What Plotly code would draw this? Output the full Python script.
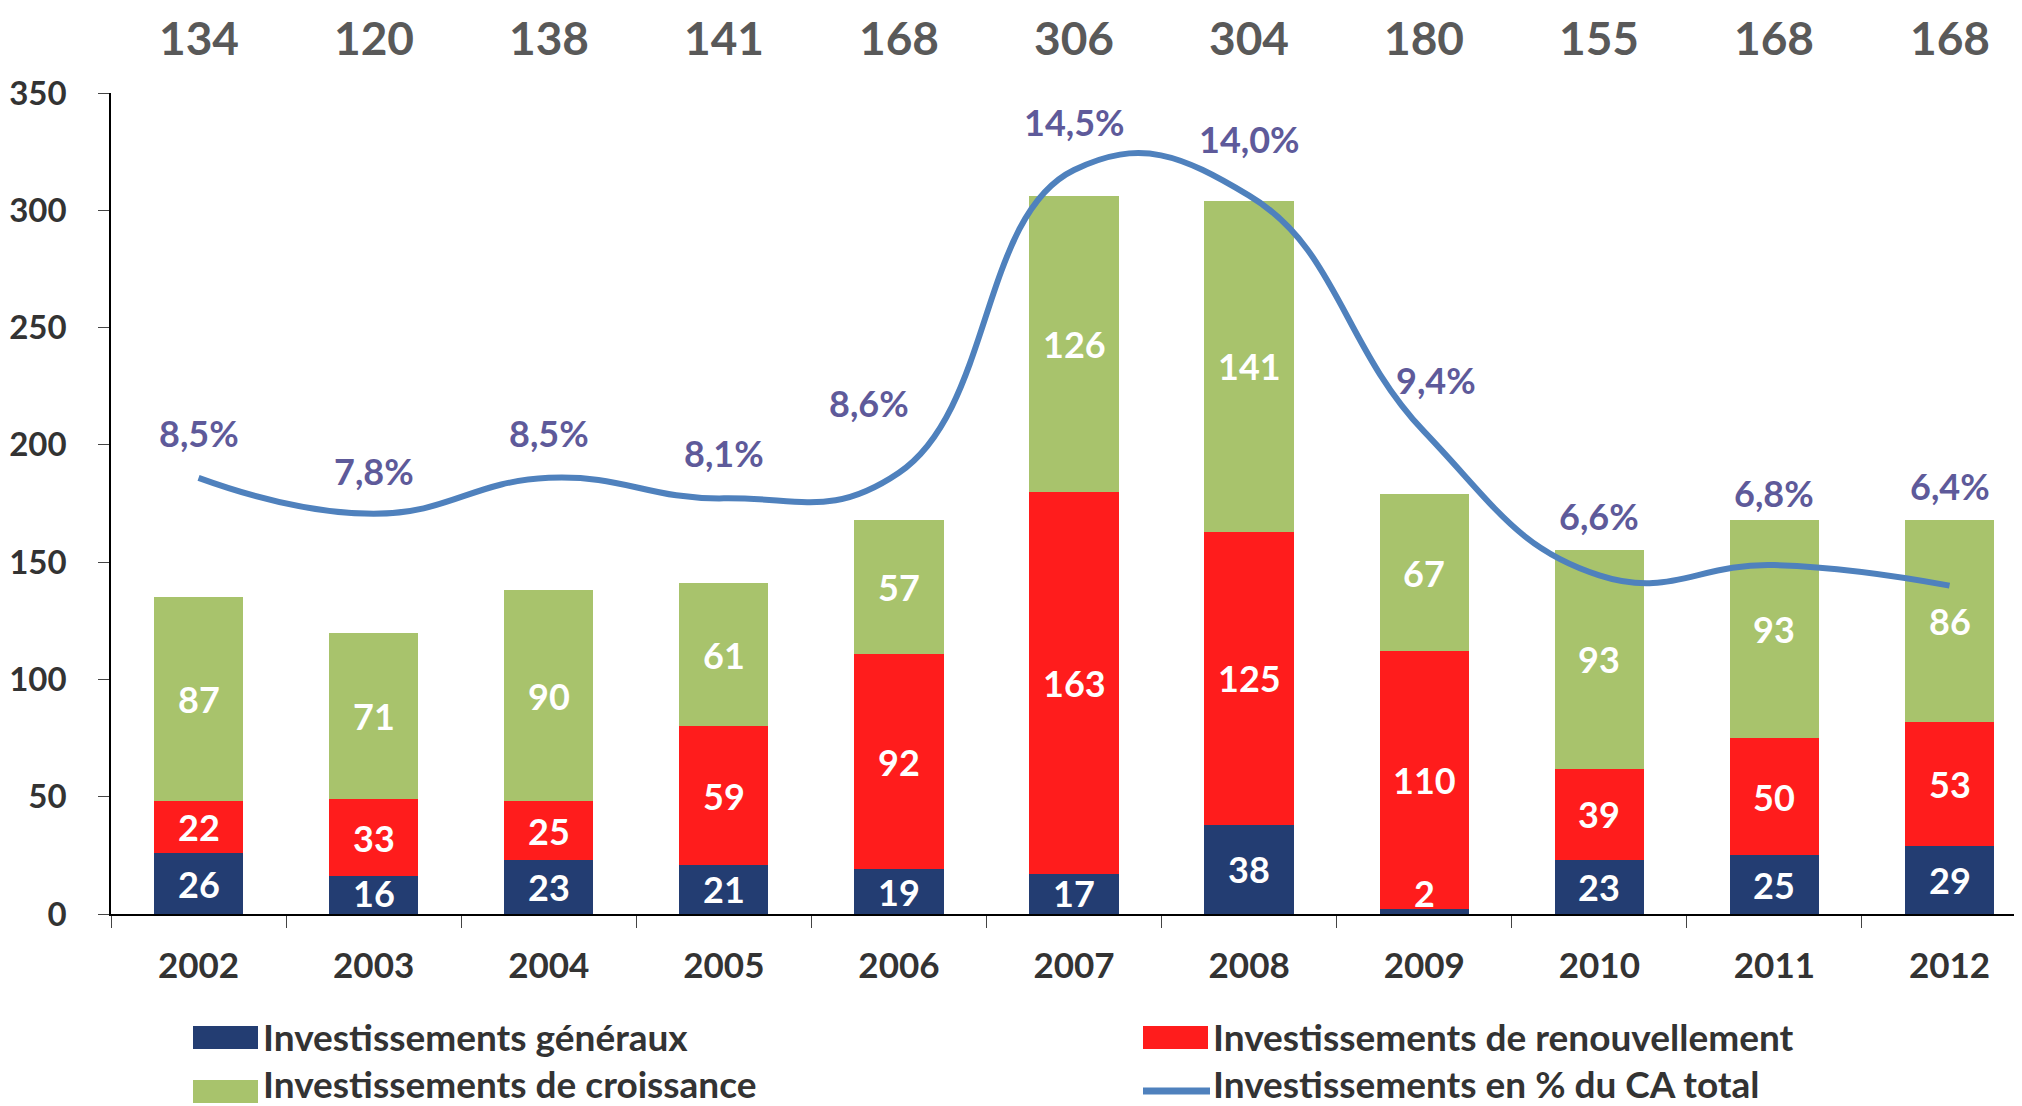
import plotly.graph_objects as go

years = ["2002", "2003", "2004", "2005", "2006", "2007", "2008", "2009", "2010", "2011", "2012"]
generaux = [26, 16, 23, 21, 19, 17, 38, 2, 23, 25, 29]
renouvellement = [22, 33, 25, 59, 92, 163, 125, 110, 39, 50, 53]
croissance = [87, 71, 90, 61, 57, 126, 141, 67, 93, 93, 86]
totals = [134, 120, 138, 141, 168, 306, 304, 180, 155, 168, 168]
pct_ca = [8.5, 7.8, 8.5, 8.1, 8.6, 14.5, 14.0, 9.4, 6.6, 6.8, 6.4]
pct_text = ["8,5%", "7,8%", "8,5%", "8,1%", "8,6%", "14,5%", "14,0%", "9,4%", "6,6%", "6,8%", "6,4%"]

series_names = ["Investissements généraux", "Investissements de renouvellement",
                "Investissements de croissance", "Investissements en % du CA total"]

# styles
FONT = "Lato, 'Open Sans', 'DejaVu Sans', sans-serif"
C_NAVY = "#233D72"
C_RED = "#FF1C1C"
C_GREEN = "#A8C36C"
C_LINE = "#4F81BD"
C_PCT = "#5E5A9A"
C_TOT = "#595959"
C_AX = "#333333"
pct_dy = [45, 43, 45, 45, 70, 48, 57, 52, 59, 72, 100]
pct_dx = [0, 0, 0, 0, -30, 0, 0, 12, 0, 0, 0]

OFF = 8  # page body margin
W, H = 2022 - OFF, 1106 - OFF
ML, MR, MT, MB = 111 - OFF, 0, 93 - OFF, 192
PW, PH = W - ML - MR, H - MT - MB


def px(xs):
    return (xs - OFF - ML) / PW


def py(ys):
    return (H - MB - (ys - OFF)) / PH


fig = go.Figure()
for name, vals, col in [(series_names[0], generaux, C_NAVY),
                        (series_names[1], renouvellement, C_RED),
                        (series_names[2], croissance, C_GREEN)]:
    fig.add_trace(go.Bar(x=years, y=vals, name=name, width=0.51,
                         marker=dict(color=col, line=dict(width=0)),
                         showlegend=False))

fig.add_trace(go.Scatter(x=years, y=pct_ca, name=series_names[3], yaxis="y2",
                         mode="lines", line=dict(color=C_LINE, width=6, shape="spline", smoothing=1.3),
                         showlegend=False))

ann = []
for i in range(len(years)):
    base = 0
    for vals in (generaux, renouvellement, croissance):
        v = vals[i]
        yc = base + max(v, 18) / 2
        ann.append(dict(x=i, y=yc, xref="x", yref="y", text=str(v), showarrow=False,
                        font=dict(family=FONT, size=36, color="white", weight="bold")))
        base += v
    ann.append(dict(x=i, y=py(OFF + 1), xref="x", yref="paper", text=str(totals[i]), showarrow=False,
                    yanchor="top", borderpad=0,
                    font=dict(family=FONT, size=46, color=C_TOT, weight="bold")))
    ann.append(dict(x=i, y=pct_ca[i], xref="x", yref="y2", text=pct_text[i], showarrow=False,
                    yshift=pct_dy[i], xshift=pct_dx[i],
                    font=dict(family=FONT, size=36, color=C_PCT, weight="bold")))

# custom legend (symbol x, symbol top y, text centre y)
shapes = []
leg = [(193, 1026, 1036, C_NAVY, "rect"), (1143, 1026, 1036, C_RED, "rect"),
       (193, 1080, 1083, C_GREEN, "rect"), (1143, 1080, 1083, C_LINE, "line")]
for (lx, ly, ty, col, kind), name in zip(leg, series_names):
    if kind == "rect":
        shapes.append(dict(type="rect", xref="paper", yref="paper", x0=px(lx), x1=px(lx + 65),
                           y0=py(ly), y1=py(ly + 23), fillcolor=col, line=dict(width=0)))
    else:
        shapes.append(dict(type="line", xref="paper", yref="paper", x0=px(lx), x1=px(lx + 67),
                           y0=py(ly + 11), y1=py(ly + 11), line=dict(color=col, width=7)))
    ann.append(dict(x=px(lx + 69), y=py(ty), xref="paper", yref="paper", text=name,
                    showarrow=False, xanchor="left", yanchor="middle", borderpad=0,
                    font=dict(family=FONT, size=37, color=C_AX, weight="bold")))

fig.update_layout(
    width=W, height=H, barmode="stack",
    margin=dict(l=ML, r=MR, t=MT, b=MB, autoexpand=False),
    paper_bgcolor="white", plot_bgcolor="white",
    showlegend=False,
    annotations=ann, shapes=shapes,
    xaxis=dict(type="category", range=[-0.5, 10.414], showline=True, linecolor="black", linewidth=1.5,
               ticks="outside", tickson="boundaries", ticklen=12, tickcolor="#444444", tickwidth=1,
               showgrid=False, zeroline=False, ticklabelstandoff=20,
               tickfont=dict(family=FONT, size=35, color=C_AX, weight="bold")),
    yaxis=dict(range=[0, 350], dtick=50, showline=True, linecolor="black", linewidth=1.5,
               ticks="outside", ticklen=11, tickcolor="#444444", tickwidth=1,
               showgrid=False, zeroline=False, ticklabelstandoff=25,
               tickfont=dict(family=FONT, size=33, color=C_AX, weight="bold")),
    yaxis2=dict(range=[0, 16], overlaying="y", visible=False),
)

fig.write_html("out.html")
